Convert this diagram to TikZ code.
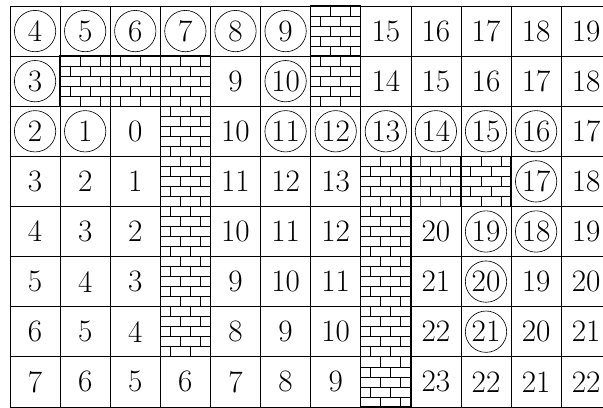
\documentclass[tikz,border=0pt]{standalone}
\usetikzlibrary{patterns}
\pgfdeclarepatternformonly{mybricks}{\pgfpoint{-0.5pt}{-0.5pt}}{\pgfpoint{16.5pt}{16.5pt}}{\pgfpoint{16pt}{16pt}}{%
  \pgfsetlinewidth{0.8pt}%
  \pgfpathmoveto{\pgfpoint{0pt}{0pt}}\pgfpathlineto{\pgfpoint{16pt}{0pt}}%
  \pgfpathmoveto{\pgfpoint{0pt}{8pt}}\pgfpathlineto{\pgfpoint{16pt}{8pt}}%
  \pgfpathmoveto{\pgfpoint{0pt}{0pt}}\pgfpathlineto{\pgfpoint{0pt}{8pt}}%
  \pgfpathmoveto{\pgfpoint{8pt}{8pt}}\pgfpathlineto{\pgfpoint{8pt}{16pt}}%
  \pgfusepath{stroke}}
\begin{document}
\begin{tikzpicture}[x=40pt,y=40pt,
  num/.style={font=\Huge, inner sep=0pt},
  visited/.style={num, draw, circle, minimum size=33pt, line width=0.5pt},
  wall/.style={pattern=mybricks, draw, line width=1pt},
  gridline/.style={line width=0.5pt}]
\useasboundingbox (-8pt,-0.2pt) rectangle (473.4pt,324.8pt);
\clip (-8pt,-0.2pt) rectangle (473.4pt,324.8pt);
% walls
\foreach \r/\c in {0/6,1/1,1/2,1/3,1/6,2/3,3/3,4/3,5/3,6/3,3/7,3/8,3/9,4/7,5/7,6/7,7/7}
  \path[wall] (\c,{7-\r}) rectangle ({\c+1},{8-\r});
% grid
\draw[gridline, step=40pt] (0,0) grid (12,8);
% plain numbers
\foreach \r/\c/\v in {0/7/15,0/8/16,0/9/17,0/10/18,0/11/19,
  1/4/9,1/7/14,1/8/15,1/9/16,1/10/17,1/11/18,
  2/2/0,2/4/10,2/11/17,
  3/0/3,3/1/2,3/2/1,3/4/11,3/5/12,3/6/13,3/11/18,
  4/0/4,4/1/3,4/2/2,4/4/10,4/5/11,4/6/12,4/8/20,4/11/19,
  5/0/5,5/1/4,5/2/3,5/4/9,5/5/10,5/6/11,5/8/21,5/10/19,5/11/20,
  6/0/6,6/1/5,6/2/4,6/4/8,6/5/9,6/6/10,6/8/22,6/10/20,6/11/21,
  7/0/7,7/1/6,7/2/5,7/3/6,7/4/7,7/5/8,7/6/9,7/8/23,7/9/22,7/10/21,7/11/22}
  \node[num] (n-\r-\c) at ({\c+0.5},{7.5-\r}) {\v};
% circled numbers
\foreach \r/\c/\v in {0/0/4,0/1/5,0/2/6,0/3/7,0/4/8,0/5/9,
  1/0/3,1/5/10,
  2/0/2,2/1/1,2/5/11,2/6/12,2/7/13,2/8/14,2/9/15,2/10/16,
  3/10/17,4/9/19,4/10/18,5/9/20,6/9/21}
  \node[visited] (n-\r-\c) at ({\c+0.5},{7.5-\r}) {\v};
\end{tikzpicture}
\end{document}
